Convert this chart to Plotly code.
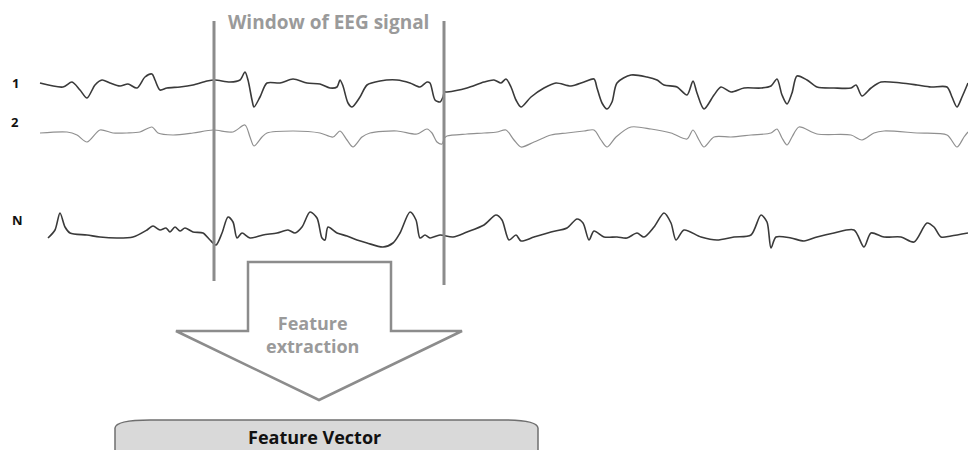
import plotly.graph_objects as go

# ---- data: EEG traces (pixel-like units) ----
ch1_x = [40, 63, 72, 80, 87, 95, 102, 110, 120, 128, 137, 145, 152, 155, 160, 167, 180, 193, 207, 215,
         230, 240, 245, 248, 252, 254, 260, 267, 280, 293, 307, 320, 330, 337, 340, 343, 348, 352, 360,
         367, 380, 397, 410, 420, 427, 430, 435, 440, 443, 444.5, 447, 467, 484, 494, 501, 506, 511, 516,
         521, 531, 544, 556, 571, 584, 594, 597, 602, 607, 612, 617, 631, 647, 657, 664, 677, 687, 693,
         697, 704, 714, 721, 731, 744, 761, 771, 777, 782, 787, 792, 797, 807, 817, 834, 851, 856, 862,
         871, 881, 901, 917, 931, 947, 952, 957, 962, 968]
ch1_y = [83, 87, 82, 90, 98, 85, 80, 83, 86, 84, 88, 77, 74, 80, 90, 88, 87, 85, 81, 80,
         82, 80, 72, 80, 100, 107, 97, 83, 83, 79, 83, 84, 88, 87, 80, 86, 103, 107, 97,
         85, 81, 80, 83, 87, 82, 83, 100, 102, 97, 92, 92, 88, 82, 80, 83, 79, 87, 100,
         107, 97, 88, 83, 86, 82, 79, 88, 103, 109, 102, 83, 75, 77, 80, 85, 87, 95, 81,
         93, 109, 95, 87, 92, 88, 88, 86, 79, 95, 104, 93, 76, 80, 87, 88, 88, 85, 96,
         88, 82, 83, 85, 87, 87, 97, 107, 97, 83]

ch2_x = [40, 67, 77, 87, 100, 113, 127, 140, 152, 158, 173, 193, 213, 233, 245, 250, 254, 262, 267,
         293, 320, 333, 340, 347, 353, 362, 370, 397, 417, 427, 432, 437, 442, 444.5, 447, 467, 484,
         497, 506, 514, 521, 534, 551, 567, 584, 594, 601, 607, 616, 631, 651, 671, 687, 693, 699,
         704, 714, 731, 751, 771, 777, 782, 787, 792, 799, 817, 851, 862, 874, 884, 917, 947, 957,
         964, 968]
ch2_y = [133, 132, 135, 142, 130, 133, 133, 132, 127, 133, 135, 133, 130, 132, 125, 137, 146, 137, 133,
         131, 133, 137, 131, 140, 147, 137, 133, 131, 134, 129, 133, 142, 144, 138, 136, 134, 133,
         132, 130, 140, 147, 142, 135, 133, 131, 130, 140, 147, 137, 127, 129, 133, 139, 130, 140,
         147, 137, 137, 135, 133, 129, 138, 145, 137, 127, 134, 135, 140, 133, 131, 133, 135, 147,
         137, 132]

chN_x = [48, 55, 60, 65, 70, 87, 100, 117, 133, 147, 153, 160, 166, 170, 175, 180, 185, 193, 203, 210,
         216, 222, 228, 233, 237, 242, 250, 263, 277, 288, 295, 302, 310, 317, 322, 325, 328, 337,
         347, 357, 367, 383, 393, 400, 410, 416, 420, 425, 430, 440, 453, 467, 484, 496, 502, 509,
         516, 521, 534, 551, 567, 577, 583, 589, 594, 604, 617, 627, 637, 644, 654, 664, 671, 676,
         684, 701, 717, 734, 751, 761, 767, 771, 776, 791, 804, 817, 834, 854, 864, 871, 884, 901,
         914, 927, 934, 941, 951, 968]
chN_y = [238, 230, 213, 227, 233, 235, 237, 238, 237, 230, 226, 230, 228, 232, 227, 231, 228, 232, 233, 240,
         245, 233, 217, 222, 238, 233, 238, 235, 233, 230, 233, 227, 212, 218, 238, 240, 227, 233,
         236, 240, 243, 247, 243, 233, 212, 220, 238, 235, 238, 235, 237, 232, 225, 215, 220, 240,
         235, 241, 237, 232, 228, 219, 223, 240, 231, 237, 237, 238, 233, 237, 227, 213, 223, 240,
         230, 237, 240, 237, 235, 215, 222, 248, 237, 238, 241, 237, 233, 230, 247, 233, 237, 237,
         242, 223, 227, 237, 236, 233]

channel_labels = ["1", "2", "N"]
label_y = [83, 122, 220]
title_text = "Window of EEG signal"
arrow_text = "Feature<br>extraction"
vector_text = "Feature Vector"

fig = go.Figure()
fig.add_trace(go.Scatter(x=ch1_x, y=ch1_y, mode="lines",
                         line=dict(color="#3a3a3a", width=1.6, shape="spline", smoothing=0.8),
                         hoverinfo="skip"))
fig.add_trace(go.Scatter(x=ch2_x, y=ch2_y, mode="lines",
                         line=dict(color="#909090", width=1.2, shape="spline", smoothing=0.8),
                         hoverinfo="skip"))
fig.add_trace(go.Scatter(x=chN_x, y=chN_y, mode="lines",
                         line=dict(color="#3a3a3a", width=1.6, shape="spline", smoothing=0.8),
                         hoverinfo="skip"))

gray = "#8c8c8c"
shapes = [
    # window lines
    dict(type="line", x0=214, x1=214, y0=21, y1=281, line=dict(color=gray, width=3)),
    dict(type="line", x0=444, x1=444, y0=21, y1=285, line=dict(color=gray, width=3)),
    # arrow
    dict(type="path",
         path="M 248 262 L 391 262 L 391 331 L 462 331 L 319 400 L 176 331 L 248 331 Z",
         fillcolor="white", line=dict(color=gray, width=2.5), layer="above"),
    # feature vector box
    dict(type="path",
         path="M 115 452 L 115 428 Q 116 420 150 420 L 503 420 Q 537 420 538 428 L 538 452 Z",
         fillcolor="#d9d9d9", line=dict(color="#6f6f6f", width=1.5)),
]

annotations = []
for lab, yy, xx in zip(channel_labels, label_y, [15, 15, 17]):
    annotations.append(dict(x=xx, y=yy, text=f"<b>{lab}</b>", showarrow=False,
                            font=dict(family="Open Sans", size=13, color="#111")))
annotations.append(dict(x=328, y=22, text=f"<b>{title_text}</b>", showarrow=False,
                        font=dict(family="Open Sans", size=19, color="#9a9a9a")))
annotations.append(dict(x=312, y=334, text=f"<b>{arrow_text}</b>", showarrow=False,
                        font=dict(family="Open Sans", size=18, color="#9a9a9a")))
annotations.append(dict(x=314, y=437, text=f"<b>{vector_text}</b>", showarrow=False,
                        font=dict(family="Open Sans", size=18, color="#111")))

fig.update_layout(
    width=968, height=450,
    margin=dict(l=0, r=0, t=0, b=0),
    paper_bgcolor="white", plot_bgcolor="white",
    showlegend=False,
    xaxis=dict(range=[0, 968], visible=False, fixedrange=True),
    yaxis=dict(range=[450, 0], visible=False, fixedrange=True),
    shapes=shapes,
    annotations=annotations,
)
fig.write_html("out.html", config={"displayModeBar": False},
               post_script="document.body.style.margin='0';document.body.style.overflow='hidden';")
